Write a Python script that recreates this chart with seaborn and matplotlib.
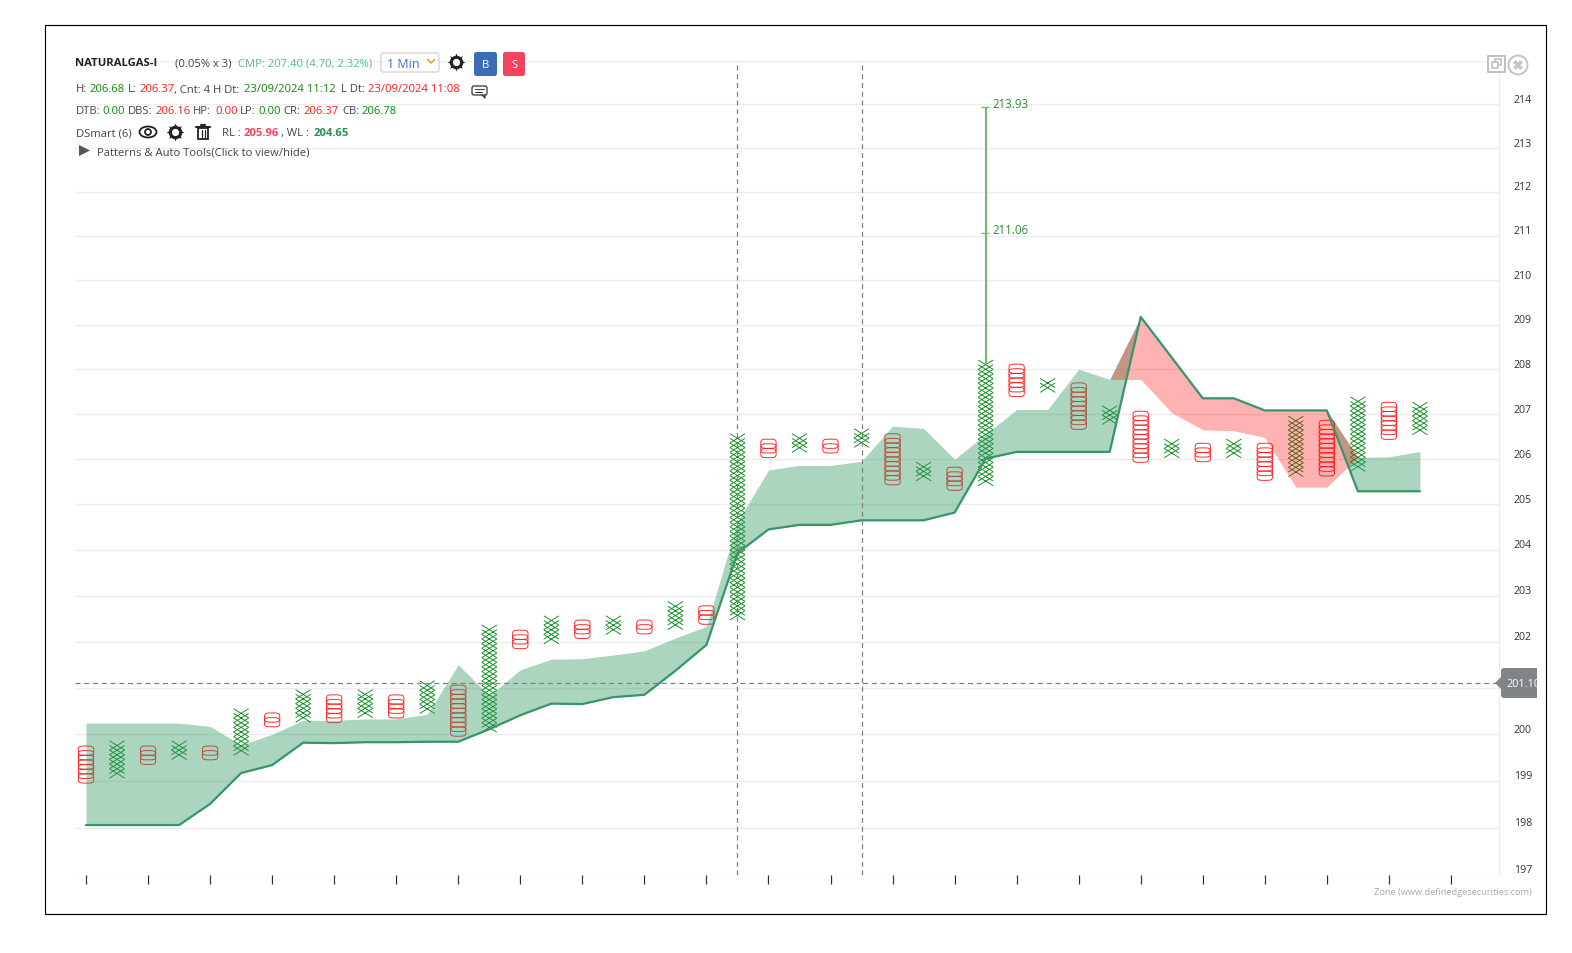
import numpy as np
import pandas as pd
import matplotlib
matplotlib.use('Agg')
import matplotlib.pyplot as plt
from matplotlib.path import Path
from matplotlib.patches import Polygon, Rectangle, FancyBboxPatch, Circle, Ellipse
from matplotlib.ticker import NullLocator
import seaborn as sns

# top price of each point & figure column (odd columns are X, even are O)
col_top = [199.65, 199.76, 199.65, 199.76, 199.65, 200.45, 200.36, 200.86, 200.75, 200.86, 200.75,
           201.05, 200.96, 202.26, 202.15, 202.46, 202.37, 202.46, 202.37, 202.77, 202.68, 206.46,
           206.34, 206.46, 206.34, 206.57, 206.46, 205.83, 205.72, 208.10, 208.01, 207.69, 207.59,
           207.08, 206.96, 206.34, 206.25, 206.34, 206.25, 206.85, 206.76, 207.28, 207.16, 207.16]
col_boxes = [7, 7, 3, 3, 2, 9, 2, 6, 5, 5, 4, 6, 10, 22, 3, 5, 3, 3, 2, 5, 3, 39,
             3, 3, 2, 3, 10, 3, 4, 26, 6, 2, 9, 3, 10, 3, 3, 3, 7, 12, 11, 15, 7, 6]

# the two edges of the cloud
span_a = [200.24, 200.24, 200.24, 200.24, 200.17, 199.77, 200.00, 200.30, 200.30, 200.33, 200.33,
          200.43, 201.50, 200.83, 201.39, 201.62, 201.63, 201.71, 201.80, 202.08, 202.33, 204.61,
          205.76, 205.86, 205.86, 205.95, 206.73, 206.68, 206.00, 206.55, 207.10, 207.10, 208.00,
          207.77, 207.77, 207.03, 206.65, 206.63, 206.48, 205.38, 205.38, 206.04, 206.05, 206.17]
span_b = [198.06, 198.06, 198.06, 198.06, 198.51, 199.17, 199.34, 199.82, 199.81, 199.83, 199.83,
          199.84, 199.84, 200.11, 200.41, 200.66, 200.65, 200.80, 200.85, 201.37, 201.93, 203.93,
          204.45, 204.55, 204.55, 204.65, 204.65, 204.65, 204.82, 206.01, 206.16, 206.16, 206.16,
          206.16, 209.17, 208.26, 207.35, 207.35, 207.08, 207.08, 207.08, 205.29, 205.29, 205.29]

target_col = 29
target_levels = [213.93, 211.06]
ltp_level = 201.10
marked_cols = [21, 25]
price_ticks = list(range(197, 216))
# 201 sits behind the last price badge
price_labels = [p for p in range(197, 215) if p != 201]
time_ticks = list(range(0, 45, 2))
BOX = 0.0005

W, H = 1572, 954
sns.set_theme(style='white')
plt.rcParams['font.family'] = ['Open Sans', 'DejaVu Sans']

cols = np.arange(len(col_top))
a = np.array(span_a)
b = np.array(span_b)

rows = []
for c, top, n in zip(cols, col_top, col_boxes):
    for i in range(n):
        rows.append({'col': c, 'price': top * (1 - BOX) ** i, 'kind': 'X' if c % 2 else 'O'})
boxes = pd.DataFrame(rows)

fig = plt.figure(figsize=(W / 100, H / 100), dpi=100, facecolor='white')
ax = fig.add_axes([75 / W, 1 - 876 / H, (1499 - 75) / W, (876 - 62) / H])

ax.set_yscale('log')
ax.set_ylim(197, 215)
ax.set_xlim(-0.355, 45.55)
ax.set_yticks(price_ticks)
ax.yaxis.set_minor_locator(NullLocator())
ax.set_yticklabels([])
ax.set_xticks(time_ticks)
ax.set_xticklabels([])
ax.grid(axis='y', color='#ededed', lw=1.0)
ax.set_axisbelow(True)
ax.tick_params(axis='x', bottom=True, length=6.5, width=0.9, color='#333333')
ax.tick_params(axis='y', length=0)
sns.despine(ax=ax, top=True, left=True, bottom=True, right=False)
ax.spines['right'].set_color('#ededed')
ax.spines['right'].set_linewidth(1.0)

# stretched X and flat O so neighbouring boxes overlap like the original
x_mark = Path([(-1, -0.62), (1, 0.62), (-1, 0.62), (1, -0.62)],
              [Path.MOVETO, Path.LINETO, Path.MOVETO, Path.LINETO])
t = np.linspace(0, 2 * np.pi, 49)
o_mark = Path(np.c_[np.sign(np.cos(t)) * np.abs(np.cos(t)) ** 0.5,
                    0.6 * np.sign(np.sin(t)) * np.abs(np.sin(t)) ** 0.5], closed=True)

sns.scatterplot(data=boxes[boxes.kind == 'X'], x='col', y='price', marker=x_mark, s=118,
                facecolor='none', edgecolor='#0f8a1f', linewidth=0.65, legend=False, ax=ax, zorder=2)
sns.scatterplot(data=boxes[boxes.kind == 'O'], x='col', y='price', marker=o_mark, s=122,
                facecolor='none', edgecolor='#ff1f1f', linewidth=0.65, legend=False, ax=ax, zorder=2)

# cloud
green = dict(color='#2e9660', alpha=0.4, lw=0, zorder=3)
red = dict(color='red', alpha=0.3, lw=0, zorder=3.2)
ax.fill_between(cols[:35], np.r_[a[:34], b[34]], b[:35], **green)
ax.fill_between(cols[40:], np.r_[b[40], a[41:]], b[40:], **green)
ax.fill_between(cols[33:42], np.r_[a[33], b[34:41], a[41]], a[33:42], **red)
sns.lineplot(x=cols, y=b, color='#35966a', lw=1.6, legend=False, ax=ax, zorder=4)

# targets
ax.vlines(target_col, col_top[target_col], max(target_levels), color='#74b974', lw=1.5, zorder=4)
ax.hlines(target_levels, target_col - 0.15, target_col + 0.12, color='#74b974', lw=1, zorder=4)
for lv in target_levels:
    ax.annotate(f'{lv:.2f}', (target_col, lv), xytext=(4.8, 3), textcoords='offset points',
                color='#2f8a3a', fontsize=8.3, va='center')

for c in marked_cols:
    ax.axvline(c, color='#808080', lw=0.9, ls=(0, (4, 3)), zorder=5)
ax.axhline(ltp_level, color='#808080', lw=0.9, ls=(0, (4, 3)), zorder=5)
ax.set_xlabel('')
ax.set_ylabel('')

for p in price_labels:
    ax.annotate(str(p), (1, p), xycoords=('axes fraction', 'data'), xytext=(10.5, 3.6),
                textcoords='offset points', fontsize=7.7, color='#333333', va='center', annotation_clip=False)

# overlay in pixel coordinates for the header and the icons
ov = fig.add_axes([0, 0, 1, 1], zorder=10)
ov.set_xlim(0, W)
ov.set_ylim(H, 0)
ov.axis('off')
ov.patch.set_alpha(0)
ov.add_patch(Rectangle((44.5, 26), 1501.5, 889, fill=False, ec='black', lw=0.85))

GREY = '#444444'
GRN = '#0a8a0a'
RED = '#ff1a1a'
def put(x, y, s, color=GREY, size=8.15, **kw):
    return ov.text(x, y, s, color=color, fontsize=size, va='center', **kw)

put(75.5, 63.5, 'NATURALGAS-I', '#222222', weight='bold')
put(175, 63.5, '(0.05% x 3)')
put(238, 63.5, 'CMP: 207.40 (4.70, 2.32%)', '#5cb88f')
ov.add_patch(FancyBboxPatch((381, 54), 58, 19, boxstyle='round,pad=0,rounding_size=2.5', fc='white', ec='#cccccc', lw=0.8))
put(387, 64, '1 Min', '#3c6fd0', size=9)
ov.plot([427.5, 431, 434.5], [60.5, 64, 60.5], color='#e0a030', lw=1.1)

def gear(x, y, r=6.5):
    ov.plot(x, y, marker=(8, 1, 0), ms=r * 2.0, color='#222222', mew=0)
    ov.plot(x, y, 'o', ms=r * 1.5, color='#222222', mew=0)
    ov.plot(x, y, 'o', ms=r * 0.8, color='white', mew=0)

gear(456, 63)
for x0, x1, fc, s in [(474, 497, '#3a6db5', 'B'), (503, 525, '#f2445f', 'S')]:
    ov.add_patch(FancyBboxPatch((x0, 53), x1 - x0, 24, boxstyle='round,pad=0,rounding_size=2.5', fc=fc, ec='none'))
    ov.text((x0 + x1) / 2, 65, s, color='white', fontsize=8.0, ha='center', va='center')

line2 = [(75.5, 'H:', GREY), (90, '206.68', GRN), (128, 'L:', GREY), (140, '206.37', RED),
         (174, ', Cnt: 4 H Dt:', GREY), (244, '23/09/2024 11:12', GRN), (341, 'L Dt:', GREY),
         (368, '23/09/2024 11:08', RED)]
for x, s, c in line2:
    put(x, 90, s, c)
line3 = [(75.5, 'DTB:', GREY), (102, '0.00', GRN), (128, 'DBS:', GREY), (155.5, '206.16', RED),
         (193, 'HP:', GREY), (215, '0.00', RED), (240, 'LP:', GREY), (258, '0.00', GRN),
         (283, 'CR:', GREY), (304, '206.37', RED), (342, 'CB:', GREY), (362, '206.78', GRN)]
for x, s, c in line3:
    put(x, 111.5, s, c)

put(75.5, 133.5, 'DSmart (6)')
ov.add_patch(Ellipse((148, 133), 17, 11, fc='white', ec='#222222', lw=1.3))
ov.add_patch(Ellipse((148, 133), 6, 6, fc='white', ec='#222222', lw=1.3))
gear(175, 133)
ov.add_patch(Rectangle((198, 129), 10, 11, fc='white', ec='#222222', lw=1.3))
ov.plot([196, 210], [127.5, 127.5], color='#222222', lw=1.5)
ov.plot([201, 205], [125.5, 125.5], color='#222222', lw=1.5)
ov.plot([201.5, 201.5], [131, 138], color='#222222', lw=0.9)
ov.plot([204.5, 204.5], [131, 138], color='#222222', lw=0.9)
put(222, 133.5, 'RL :')
put(243.5, 133.5, '205.96', '#f2445f', weight='bold')
put(281, 133.5, ', WL :')
put(314, 133.5, '204.65', '#2e8b57', weight='bold')

ov.add_patch(Polygon([(79, 146), (90, 151.5), (79, 157)], fc='#555555', ec='none'))
put(97, 153, 'Patterns & Auto Tools(Click to view/hide)')

# comment icon
ov.add_patch(FancyBboxPatch((472, 87), 15, 9, boxstyle='round,pad=0,rounding_size=2', fc='white', ec='#333333', lw=0.9))
ov.plot([482, 485, 485], [96, 99, 96], color='#333333', lw=0.9)
ov.plot([475, 484], [90, 90], color='#333333', lw=0.7)
ov.plot([475, 482], [93, 93], color='#333333', lw=0.7)

# window icons, top right
ov.add_patch(Rectangle((1488, 57), 17, 16, fc='white', ec='#bbbbbb', lw=1.3))
ov.add_patch(Rectangle((1495, 60), 6, 6, fc='white', ec='#bbbbbb', lw=1.1))
ov.add_patch(Rectangle((1492, 63), 6, 6, fc='white', ec='#bbbbbb', lw=1.1))
ov.add_patch(Circle((1518, 66), 9.5, fc='white', ec='#c4c4c4', lw=1.4))
ov.plot(1518, 66, 'X', ms=7, color='#c4c4c4', mew=0)

# last price badge
ov.add_patch(Polygon([(1495, 684), (1501, 678), (1501, 671), (1503, 669), (1537, 669), (1537, 699),
                      (1503, 699), (1501, 697), (1501, 690)], fc='#808486', ec='none'))
badge = put(1506.5, 684.5, f'{ltp_level:.2f}', 'white', size=7.8)
badge.set_clip_path(Rectangle((1490, 660), 47, 45, transform=ov.transData))

ov.text(1532, 893, 'Zone (www.definedgesecurities.com)', color='#aaaaaa', fontsize=6.7, ha='right', va='center')

fig.savefig('out.png', dpi=100, facecolor='white')
